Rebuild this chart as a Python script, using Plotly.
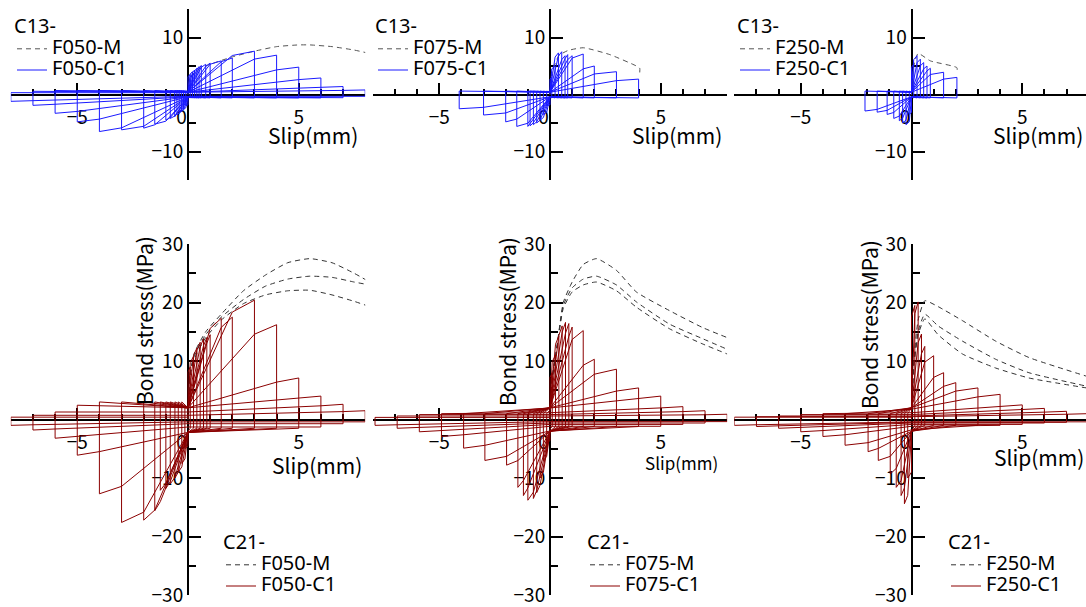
import plotly.graph_objects as go

# ---------------- C13 specimens (top row) ----------------
# peak slip (mm) / bond stress (MPa) of each loading cycle
C13_F050_SP = [0.1, 0.2, 0.3, 0.4, 0.5, 0.6, 0.8, 1.0, 1.5, 2.0, 3.0, 4.0, 5.0, 6.0, 7.0, 8.0]
C13_F050_TP = [3.5, 4.0, 4.3, 4.6, 4.9, 5.1, 5.3, 5.5, 5.9, 6.4, 7.6, 6.9, 4.8, 2.9, 1.4, 0.8]
C13_F050_SN = [-0.1, -0.2, -0.3, -0.4, -0.5, -0.6, -0.8, -1.0, -1.5, -2.0, -3.0, -4.0, -5.0, -6.0, -7.0, -8.0]
C13_F050_TN = [-2.0, -2.6, -3.0, -3.3, -3.6, -3.9, -4.2, -4.5, -5.2, -5.9, -6.2, -6.5, -4.8, -3.3, -1.9, -1.2]
C13_F050_M_SLIP = [0, 0.1, 0.5, 1.0, 2.0, 3.0, 4.0, 5.0, 5.5, 6.5, 7.5, 8.2]
C13_F050_M_TAU = [0, 3.0, 4.5, 5.3, 6.6, 7.6, 8.4, 8.7, 8.7, 8.4, 7.8, 7.2]

C13_F075_SP = [0.08, 0.23, 0.38, 0.53, 0.68, 0.8, 1.0, 1.5, 2.0, 3.0, 4.0]
C13_F075_TP = [3.0, 5.0, 7.3, 7.5, 6.8, 7.0, 6.8, 7.1, 5.0, 4.0, 2.7]
C13_F075_SN = [-0.15, -0.3, -0.45, -0.6, -0.75, -0.9, -1.0, -1.5, -2.0, -3.0, -4.1]
C13_F075_TN = [-2.0, -3.5, -4.5, -5.0, -5.3, -5.5, -5.6, -5.6, -4.8, -3.6, -2.5]
C13_F075_M_SLIP = [0, 0.1, 0.4, 0.8, 1.5, 2.7, 3.9, 4.05, 4.05]
C13_F075_M_TAU = [0, 4.0, 6.8, 7.7, 8.2, 7.0, 5.0, 4.6, 3.8]

C13_F250_SP = [0.1, 0.25, 0.4, 0.55, 0.7, 0.85, 1.45, 2.05]
C13_F250_TP = [5.3, 6.8, 6.2, 5.6, 5.0, 4.6, 3.9, 3.0]
C13_F250_SN = [-0.1, -0.25, -0.4, -0.55, -0.8, -1.1, -1.55, -2.1]
C13_F250_TN = [-3.5, -5.3, -5.0, -4.6, -4.2, -3.5, -3.1, -2.9]
C13_F250_M_SLIP = [0, 0.1, 0.3, 0.85, 2.05, 2.05]
C13_F250_M_TAU = [0, 5.0, 7.2, 5.9, 4.7, 3.8]

# ---------------- C21 specimens (bottom row) ----------------
C21_F050_SP = [0.1, 0.25, 0.4, 0.55, 0.7, 0.85, 1.0, 1.5, 2.0, 3.0, 4.0, 5.0, 6.0, 7.0, 8.0]
C21_F050_TP = [9.0, 10.8, 12.2, 13.2, 13.8, 14.0, 14.5, 17.3, 17.5, 20.4, 16.2, 7.1, 4.0, 2.6, 1.5]
C21_F050_SN = [-0.14, -0.28, -0.44, -0.59, -0.8, -1.0, -1.25, -1.5, -2.0, -3.0, -4.0, -5.0, -6.0, -7.0, -8.0]
C21_F050_TN = [-5.0, -7.5, -9.0, -10.0, -11.0, -11.8, -12.1, -15.6, -17.2, -17.6, -12.7, -6.1, -3.2, -1.8, -1.0]
C21_F050_M_SLIP = [0, 0.1, 0.3, 0.8, 1.5, 2.5, 3.5, 4.5, 5.5, 6.5, 7.5, 8.2]
C21_F050_M_TAU = [
    [0, 8.0, 11.5, 15.0, 18.0, 22.0, 24.7, 26.8, 27.5, 26.8, 25.0, 23.5],
    [0, 8.0, 11.0, 14.5, 17.5, 20.5, 22.8, 24.0, 24.5, 24.3, 23.5, 23.0],
    [0, 7.5, 10.5, 14.0, 17.0, 19.8, 21.3, 22.0, 22.1, 21.3, 20.2, 19.3],
]

C21_F075_SP = [0.1, 0.25, 0.4, 0.55, 0.7, 0.85, 1.0, 1.5, 2.0, 3.0, 4.0, 5.0, 6.0, 7.0, 8.0]
C21_F075_TP = [8.0, 11.0, 14.3, 16.0, 16.6, 16.4, 15.8, 15.2, 10.3, 8.6, 5.4, 4.0, 2.2, 1.5, 0.9]
C21_F075_SN = [-0.15, -0.3, -0.45, -0.6, -0.75, -1.0, -1.2, -1.45, -1.96, -2.94, -3.9, -4.9, -5.9, -6.9, -7.9]
C21_F075_TN = [-4.0, -7.0, -10.0, -12.5, -13.5, -13.8, -13.0, -11.6, -7.8, -7.0, -4.9, -2.9, -2.1, -1.5, -1.0]
C21_F075_M_SLIP = [0, 0.1, 0.3, 0.6, 1.0, 1.5, 2.1, 3.0, 3.9, 5.4, 6.9, 8.0]
C21_F075_M_TAU = [
    [0, 7.0, 12.0, 20.0, 23.5, 26.5, 27.5, 25.5, 21.8, 18.6, 15.7, 14.0],
    [0, 7.0, 12.0, 19.5, 22.5, 24.0, 24.5, 23.0, 20.1, 16.3, 13.8, 12.0],
    [0, 7.0, 12.0, 19.0, 21.8, 23.0, 23.5, 22.0, 19.2, 15.5, 12.9, 11.2],
]

C21_F250_SP = [0.15, 0.3, 0.45, 0.6, 1.0, 1.45, 2.0, 3.0, 4.0, 5.0, 6.0, 7.0, 8.0]
C21_F250_TP = [19.5, 20.1, 14.6, 12.5, 10.9, 8.0, 6.3, 5.4, 4.3, 2.5, 1.9, 1.4, 1.0]
C21_F250_SN = [-0.17, -0.32, -0.47, -0.69, -0.96, -1.5, -1.96, -3.0, -4.0, -5.0, -6.0, -7.0, -8.0]
C21_F250_TN = [-10.0, -14.4, -13.0, -11.6, -9.3, -7.0, -5.5, -4.4, -2.9, -2.1, -1.5, -1.2, -1.0]
C21_F250_M_SLIP = [0, 0.1, 0.3, 0.6, 1.2, 2.3, 3.8, 5.3, 7.9]
C21_F250_M_TAU = [
    [0, 10.0, 17.0, 20.3, 19.3, 16.9, 13.4, 10.6, 7.4],
    [0, 9.0, 15.0, 18.0, 16.0, 13.4, 10.3, 8.0, 5.7],
    [0, 9.0, 14.5, 17.2, 14.5, 11.2, 8.8, 7.1, 5.4],
]

W, H = 1086, 607
FONT = "Noto Sans CJK JP"
LFONT = "Noto Sans"
BLUE = "#1a1aff"
DRED = "#8b0000"


def big(txt, size=20):
    # legend rows are spaced by the (small) legend font; the text itself is drawn larger
    return "<span style='font-size:%dpx'>%s</span>" % (size, txt)


def loop_xy(sp, tp, sn, tn, fric):
    # build the cyclic path: reload -> peak -> unload -> friction -> other side
    xs, ys = [0.0], [0.0]
    pp, pn = 0.0, 0.0
    for a, ta, b, tb in zip(sp, tp, sn, tn):
        lim = 0.4 * min(abs(ta), abs(tb))
        f1, f2, f3, f4 = [max(min(v, lim), -lim) for v in fric]
        xs += [pp, a, a, 0.0, pn, b, b, 0.0]
        ys += [0.9 * ta, ta, f3, f4, 0.9 * tb, tb, f1, f2]
        pp, pn = a, b
    return xs, ys


panels = [
    dict(name="F050", group="C13-", sp=C13_F050_SP, tp=C13_F050_TP, sn=C13_F050_SN, tn=C13_F050_TN,
         ms=C13_F050_M_SLIP, mt=[C13_F050_M_TAU], fric=(0.7, 0.4, -0.6, -0.4)),
    dict(name="F075", group="C13-", sp=C13_F075_SP, tp=C13_F075_TP, sn=C13_F075_SN, tn=C13_F075_TN,
         ms=C13_F075_M_SLIP, mt=[C13_F075_M_TAU], fric=(0.6, 0.4, -0.6, -0.4)),
    dict(name="F250", group="C13-", sp=C13_F250_SP, tp=C13_F250_TP, sn=C13_F250_SN, tn=C13_F250_TN,
         ms=C13_F250_M_SLIP, mt=[C13_F250_M_TAU], fric=(0.6, 0.4, -0.6, -0.4)),
    dict(name="F050", group="C21-", sp=C21_F050_SP, tp=C21_F050_TP, sn=C21_F050_SN, tn=C21_F050_TN,
         ms=C21_F050_M_SLIP, mt=C21_F050_M_TAU, fric=(3.0, 2.0, -1.5, -2.2)),
    dict(name="F075", group="C21-", sp=C21_F075_SP, tp=C21_F075_TP, sn=C21_F075_SN, tn=C21_F075_TN,
         ms=C21_F075_M_SLIP, mt=C21_F075_M_TAU, fric=(1.0, 2.0, -1.2, -2.0)),
    dict(name="F250", group="C21-", sp=C21_F250_SP, tp=C21_F250_TP, sn=C21_F250_SN, tn=C21_F250_TN,
         ms=C21_F250_M_SLIP, mt=C21_F250_M_TAU, fric=(1.0, 2.0, -1.0, -2.0)),
]

col_x0 = [188.0, 550.0, 911.5]   # pixel of slip = 0
sx = 22.15                         # pixel per mm
rows = [(94.5, 5.7, 15, [-10, 10]), (419.5, 5.85, 30, [-30, -20, -10, 10, 20, 30])]
legend_pos = [(12, 15), (373, 15), (735, 15), (221, 531), (585, 531), (946, 531)]
slip_lbl = [(313, 135, 21), (677, 135, 21), (1038, 135, 21), (317, 465, 21), (681, 462, 17), (1039, 457, 21)]
bond_lbl = [(144, 321), (507, 321), (869, 325)]

fig = go.Figure()
layout = dict(width=W, height=H, margin=dict(l=0, r=0, t=0, b=0, autoexpand=False),
              paper_bgcolor="white", plot_bgcolor="white",
              font=dict(family=FONT, size=18, color="black"), annotations=[])

for k, p in enumerate(panels):
    r, c = divmod(k, 3)
    cx = col_x0[c]
    cy, sy, yr, yticks = rows[r]
    x0 = max(cx - 8 * sx, 0)
    x1 = min(cx + 8 * sx, W)
    sfx = "" if k == 0 else str(k + 1)
    xa, ya = "x" + sfx, "y" + sfx
    leg = "legend" + sfx
    lcol = BLUE if r == 0 else DRED
    mcol = "#555555" if r == 0 else "#333333"

    for j, mt in enumerate(p["mt"]):
        fig.add_trace(go.Scatter(
            x=p["ms"], y=mt, mode="lines", xaxis=xa, yaxis=ya, legend=leg,
            name=big(p["name"] + "-M"), showlegend=(j == 0),
            line=dict(color=mcol, width=1, dash="5px,4px", shape="spline", smoothing=0.5)))
    lx, ly = loop_xy(p["sp"], p["tp"], p["sn"], p["tn"], p["fric"])
    fig.add_trace(go.Scatter(
        x=lx, y=ly, mode="lines", xaxis=xa, yaxis=ya, legend=leg,
        name=big(p["name"] + "-C1"), line=dict(color=lcol, width=1)))

    tick_font = dict(family=FONT, size=19, color="black")
    layout["xaxis" + sfx] = dict(
        domain=[x0 / W, x1 / W], range=[(x0 - cx) / sx, (x1 - cx) / sx],
        anchor="free", position=1 - cy / H, showgrid=False, zeroline=False,
        showline=True, linecolor="black", linewidth=2, layer="below traces",
        automargin=False,
        tickmode="array", tickvals=[-5, 0, 5], ticktext=["\u22125", "0\u00a0\u00a0\u00a0", "5"],
        ticks="inside", ticklen=11, tickwidth=2, tickcolor="black",
        ticklabelstandoff=6, tickfont=tick_font,
        minor=dict(tickmode="linear", tick0=0, dtick=1, ticks="inside", ticklen=5,
                   tickwidth=2, tickcolor="black"))
    layout["yaxis" + sfx] = dict(
        domain=[1 - (cy + yr * sy) / H, 1 - (cy - yr * sy) / H], range=[-yr, yr],
        anchor="free", position=cx / W, showgrid=False, zeroline=False,
        showline=True, linecolor="black", linewidth=2, layer="below traces",
        automargin=False,
        tickmode="array", tickvals=yticks, ticks="inside", ticklen=12, tickwidth=2,
        tickcolor="black", tickfont=tick_font,
        minor=dict(tickmode="linear", tick0=0, dtick=5, ticks="inside", ticklen=7,
                   tickwidth=2, tickcolor="black"))

    lx0, ly0 = legend_pos[k]
    layout[leg] = dict(
        x=lx0 / W, y=1 - ly0 / H, xanchor="left", yanchor="top",
        bgcolor="rgba(0,0,0,0)", borderwidth=0, tracegroupgap=0,
        title=dict(text=big(p["group"]), font=dict(family=LFONT, size=14)),
        font=dict(family=LFONT, size=14, color="black"))

    sxp, syp, sfs = slip_lbl[k]
    layout["annotations"].append(dict(
        text="Slip(mm)", x=sxp / W, y=1 - syp / H, xref="paper", yref="paper",
        showarrow=False, xanchor="center", yanchor="middle",
        font=dict(family=FONT, size=sfs, color="black")))
    if r == 1:
        bx, by = bond_lbl[c]
        layout["annotations"].append(dict(
            text="Bond stress(MPa)", x=bx / W, y=1 - by / H, xref="paper", yref="paper",
            showarrow=False, xanchor="center", yanchor="middle", textangle=-90,
            font=dict(family=FONT, size=21, color="black")))

fig.update_layout(**layout)
# the page's default 8px body margin would shift the whole figure
fig.write_html("out.html", config={"displayModeBar": False},
               post_script="document.body.style.margin='0px';")
